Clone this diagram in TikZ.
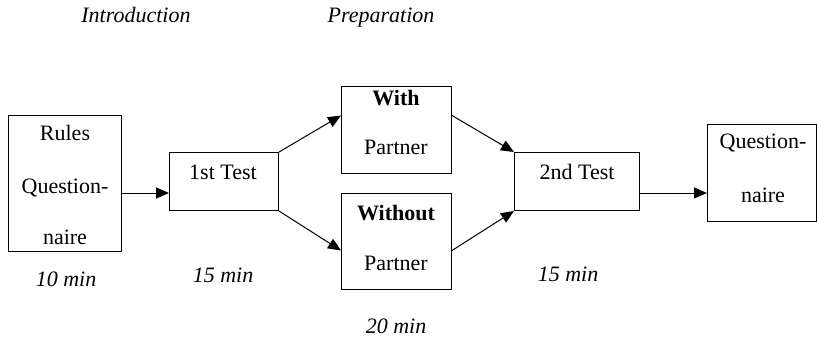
\documentclass[tikz,border=0pt]{standalone}
\usepackage{fontspec}
\setmainfont{Liberation Serif}
\usetikzlibrary{arrows.meta}
\tikzset{
  box/.style={draw, line width=1pt, inner sep=0pt, anchor=north west},
  txt/.style={inner sep=0pt, font=\fontsize{22}{26}\selectfont},
  itxt/.style={txt, font=\fontsize{22}{26}\selectfont\itshape},
  btxt/.style={txt, font=\fontsize{22}{26}\selectfont\bfseries},
  arr/.style={line width=1pt, -{Triangle[length=13pt,width=11pt]}, shorten >=0pt}
}
\begin{document}
\begin{tikzpicture}[x=1pt,y=-1pt]
\useasboundingbox (0,0) rectangle (817,338);
% boxes
\node[box, minimum width=113pt, minimum height=136pt] (rules) at (8,115) {};
\node[box, minimum width=109pt, minimum height=58pt] (t1) at (169,152) {};
\node[box, minimum width=110pt, minimum height=87pt] (with) at (341,86) {};
\node[box, minimum width=110pt, minimum height=96pt] (without) at (341,193) {};
\node[box, minimum width=125pt, minimum height=58pt] (t2) at (514,152) {};
\node[box, minimum width=109pt, minimum height=97pt] (quest) at (707,124) {};
% box texts
\node[txt] (r1) at (65,133) {Rules};
\node[txt] (r2) at (65,188) {Question-};
\node[txt] (r3) at (65,237) {naire};
\node[txt] (t1a) at (223,172) {1st Test};
\node[btxt] (w1) at (396,98) {With};
\node[txt] (w2) at (396,147) {Partner};
\node[btxt] (wo1) at (396,213) {Without};
\node[txt] (wo2) at (396,263) {Partner};
\node[txt] (t2a) at (577,172) {2nd Test};
\node[txt] (q1) at (763,143) {Question-};
\node[txt] (q2) at (763,195) {naire};
% labels
\node[itxt, anchor=base] (intro) at (136,22) {Introduction};
\node[itxt, anchor=base] (prep) at (381,22) {Preparation};
\node[itxt, anchor=base] (m10) at (66,286) {10 min};
\node[itxt, anchor=base] (m15a) at (223,282) {15 min};
\node[itxt, anchor=base] (m20) at (396,333) {20 min};
\node[itxt, anchor=base] (m15b) at (568,281) {15 min};
% connectors
\coordinate (row) at (0,193);
\draw[arr] (rules.east |- row) -- (t1.west |- row);
\draw[arr] (t1.north east) -- ([yshift=14.5pt]with.west);
\draw[arr] (t1.south east) -- ([yshift=-9pt]without.west);
\draw[arr] ([yshift=14.5pt]with.east) -- (t2.north west);
\draw[arr] ([yshift=-9pt]without.east) -- (t2.south west);
\draw[arr] (t2.east |- row) -- (quest.west |- row);
\end{tikzpicture}
\end{document}
